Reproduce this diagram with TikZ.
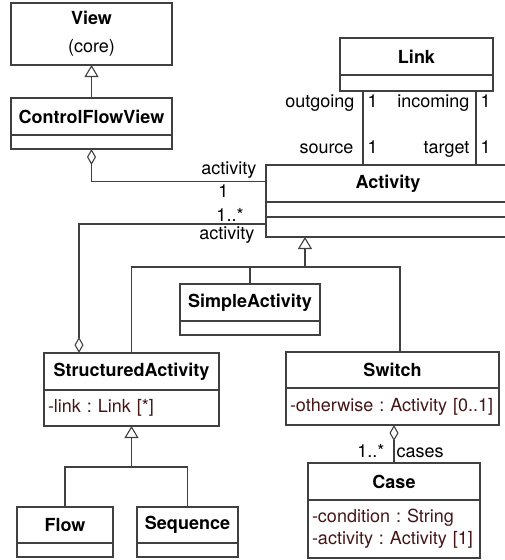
\documentclass[tikz,border=0pt]{standalone}
\usepackage{fontspec}
\setmainfont{TeX Gyre Heros}
\usetikzlibrary{positioning,arrows.meta}
\definecolor{attrcol}{RGB}{70,22,22}
\definecolor{linecol}{RGB}{64,64,64}
\newcommand{\umlfont}{\fontsize{18}{21.6}\selectfont\frenchspacing}

\begin{document}
\begin{tikzpicture}[x=1pt, y=-1pt, line width=1.1pt,
	every node/.style={font=\umlfont},
	cls/.style={draw=linecol, anchor=north, minimum height=37pt, inner sep=0pt, outer sep=0pt, font=\umlfont\bfseries},
	comp/.style={draw=linecol, anchor=north, inner sep=0pt, outer sep=0pt},
	attr/.style={comp, align=left, inner xsep=4pt, text=attrcol},
	lbl/.style={inner sep=0pt},
	gen/.style={linecol, -{Triangle[open, length=12pt, width=14pt]}},
	aggr/.style={linecol, -{Diamond[open, length=16pt, width=9pt]}}]
	\useasboundingbox (0,0) rectangle (505,560);

	\node[cls, minimum width=161pt, minimum height=62pt, align=center] (view) at (91.5,3) {View\\[6pt]\mdseries (core)};
	\node[cls, minimum width=161pt] (cfv) at (91.5,98) {ControlFlowView};
	\node[comp, minimum width=161pt, minimum height=14pt, below=0pt of cfv] (cfvattr) {};

	\node[cls, minimum width=153pt] (link) at (416.5,38) {Link};
	\node[comp, minimum width=153pt, minimum height=16pt, below=0pt of link] (linkattr) {};

	\node[cls, minimum width=244pt] (act) at (388,165) {Activity};
	\node[comp, minimum width=244pt, minimum height=15pt, below=0pt of act] (actattr) {};
	\node[comp, minimum width=244pt, minimum height=20pt, below=0pt of actattr] (actop) {};

	\node[cls, minimum width=140pt] (simple) at (250,284) {SimpleActivity};
	\node[comp, minimum width=140pt, minimum height=14pt, below=0pt of simple] (simpleattr) {};

	\node[cls, minimum width=175pt] (struct) at (131.5,353) {StructuredActivity};
	\node[attr, text width=167pt, minimum height=36pt, below=0pt of struct] (structattr) {-link : Link [*]};

	\node[cls, minimum width=213pt, minimum height=36pt] (switch) at (392.5,352) {Switch};
	\node[attr, text width=205pt, minimum height=37pt, below=0pt of switch] (switchattr) {-otherwise : Activity [0..1]};

	\node[cls, minimum width=172pt] (case) at (394,463) {Case};
	\node[attr, text width=164pt, minimum height=58pt, below=0pt of case] (caseattr) {-condition : String\\-activity : Activity [1]};

	\node[cls, minimum width=96pt, minimum height=36pt] (flow) at (65,507) {Flow};
	\node[comp, minimum width=96pt, minimum height=14pt, below=0pt of flow] (flowattr) {};
	\node[cls, minimum width=101pt, minimum height=36pt] (seq) at (187.5,507) {Sequence};
	\node[comp, minimum width=101pt, minimum height=14pt, below=0pt of seq] (seqattr) {};

	\draw[gen] (cfv.north) -- (view.south);

	\coordinate (busA) at (305,267);
	\draw[gen] (busA) -- (busA |- actop.south);
	\draw[linecol] (struct.north) |- (busA) -| ([xshift=7.5pt]switch.north);
	\draw[linecol] (simple.north) -- (simple.north |- busA);

	\coordinate (busS) at (131.5,467);
	\draw[gen] (busS) -- (structattr.south);
	\draw[linecol] (flow.north) |- (busS) -| (seq.north);

	\draw[aggr] ([yshift=2pt]act.west) -| (cfvattr.south);
	\draw[aggr] ([yshift=3pt]actop.west) -| ([xshift=35pt]struct.north west);
	\node[lbl, anchor=base east] (cfvrole) at (257,174) {activity};
	\node[lbl, anchor=base] (cfvmult) at (223.5,197) {1};
	\node[lbl, anchor=base] (structmult) at (230,221) {1..*};
	\node[lbl, anchor=base east] (structrole) at (255,239) {activity};

	\coordinate (src) at ([xshift=23pt]linkattr.south west);
	\coordinate (tgt) at ([xshift=-17pt]linkattr.south east);
	\draw[linecol] (src) -- (src |- act.north);
	\draw[linecol] (tgt) -- (tgt |- act.north);
	\node[lbl, anchor=base east] (outrole) at (355,107) {outgoing};
	\node[lbl, anchor=base west] (outmult) at (367,107) {1};
	\node[lbl, anchor=base east] (srcrole) at (354,153) {source};
	\node[lbl, anchor=base west] (srcmult) at (367,153) {1};
	\node[lbl, anchor=base east] (inrole) at (470,107) {incoming};
	\node[lbl, anchor=base west] (inmult) at (480,107) {1};
	\node[lbl, anchor=base east] (tgtrole) at (470,153) {target};
	\node[lbl, anchor=base west] (tgtmult) at (480,153) {1};

	\draw[aggr] (case.north) -- (case.north |- switchattr.south);
	\node[lbl, anchor=base east] (casemult) at (385,457) {1..*};
	\node[lbl, anchor=base west] (caserole) at (396,457) {cases};
\end{tikzpicture}
\end{document}
